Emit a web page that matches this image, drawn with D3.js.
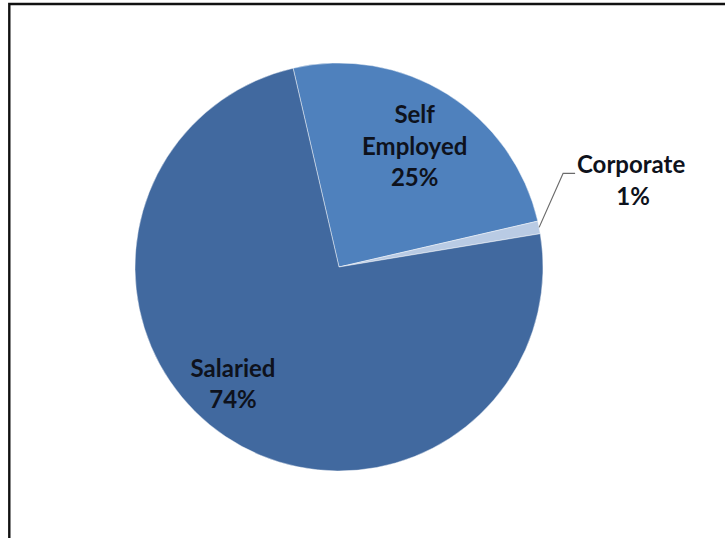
<!DOCTYPE html>
<html>
<head>
<meta charset="utf-8">
<script src="https://cdn.jsdelivr.net/npm/d3@7/dist/d3.min.js"></script>
<style>
  html, body { margin: 0; padding: 0; background: #fff; }
  svg { display: block; }
  .lbl { font-family: "Lato", "Open Sans", sans-serif; font-weight: 700; font-size: 24px; fill: #0e121c; }
</style>
</head>
<body>
<svg id="chart" width="727" height="538"></svg>
<script>
// Applicant profile shares (percent), in clockwise order from the first slice
const categories = ["Self Employed", "Corporate", "Salaried"];
const shares = [25, 1, 74];
const sliceColors = ["#4f81bd", "#b9cbe4", "#41699f"];

const W = 727, H = 538;
const cx = 339, cy = 267, R = 204;
const startDeg = -13;

const svg = d3.select("#chart");

// chart frame
svg.append("path")
  .attr("d", `M9.3,${H} V4 H725`)
  .attr("fill", "none")
  .attr("stroke", "#111")
  .attr("stroke-width", 2.4);

const data = categories.map((c, i) => ({ name: c, value: shares[i], color: sliceColors[i] }));

const pie = d3.pie()
  .sort(null)
  .value(d => d.value)
  .startAngle(startDeg * Math.PI / 180)
  .endAngle((startDeg + 360) * Math.PI / 180);

const arcs = pie(data);
const arc = d3.arc().innerRadius(0).outerRadius(R);

const g = svg.append("g").attr("transform", `translate(${cx},${cy})`);

g.selectAll("path.slice")
  .data(arcs)
  .join("path")
  .attr("class", "slice")
  .attr("d", arc)
  .attr("fill", d => d.data.color)
  .attr("stroke", "rgba(255,255,255,0.55)")
  .attr("stroke-width", 0.8);

// label placement: radius fraction and nudge per slice
const labelLayout = {
  "Self Employed": { k: 0.70, dx: 0, dy: 1, lines: ["Self", "Employed"] },
  "Salaried": { k: 0.74, dx: -22, dy: -8, lines: ["Salaried"] }
};
const lineH = 31.5;

arcs.forEach(a => {
  const L = labelLayout[a.data.name];
  if (!L) return;
  const [x, y] = d3.arc().innerRadius(R * L.k).outerRadius(R * L.k).centroid(a);
  const lines = L.lines.concat([a.data.value + "%"]);
  const t = g.append("text")
    .attr("class", "lbl")
    .attr("text-anchor", "middle")
    .attr("x", x + L.dx)
    .attr("y", y + L.dy);
  const top = -((lines.length - 1) * lineH) / 2;
  lines.forEach((s, i) => {
    t.append("tspan")
      .attr("x", x + L.dx)
      .attr("dy", i === 0 ? top + 8 : lineH)
      .text(s);
  });
});

// small slice: label outside with a leader line
const small = arcs.find(a => a.data.name === "Corporate");
const mid = (small.startAngle + small.endAngle) / 2;
const p0 = [Math.sin(mid) * R, -Math.cos(mid) * R];
const elbow = [p0[0] + 24, p0[1] - 54];
const p2 = [elbow[0] + 12, elbow[1]];
g.append("polyline")
  .attr("points", [p0, elbow, p2].map(p => p.join(",")).join(" "))
  .attr("fill", "none")
  .attr("stroke", "#6b6b6b")
  .attr("stroke-width", 1.2);

const ct = g.append("text")
  .attr("class", "lbl")
  .attr("text-anchor", "middle")
  .attr("x", p2[0] + 56)
  .attr("y", p2[1]);
ct.append("tspan").attr("x", p2[0] + 56).attr("dy", 0).text(small.data.name);
ct.append("tspan").attr("x", p2[0] + 58).attr("dy", 32).text(small.data.value + "%");
</script>
</body>
</html>
